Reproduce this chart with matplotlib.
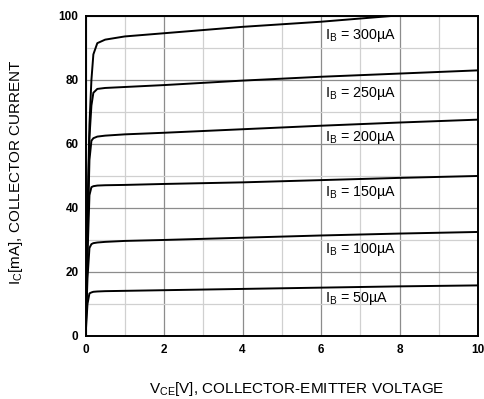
import matplotlib
matplotlib.use("Agg")
import matplotlib.pyplot as plt
from matplotlib.ticker import MultipleLocator

plt.rcParams['font.family'] = ['Liberation Sans', 'DejaVu Sans']
plt.rcParams['mathtext.fontset'] = 'custom'
plt.rcParams['mathtext.rm'] = 'Liberation Sans'
plt.rcParams['mathtext.default'] = 'regular'

# Collector-emitter voltage sample points (V)
vce = [0, 0.05, 0.1, 0.15, 0.2, 0.3, 0.5, 1, 2, 4, 6, 8, 10]

# Collector current (mA) for each base current
ib_labels = ["50", "100", "150", "200", "250", "300"]
ic_50 = [0, 10, 13.3, 13.6, 13.8, 13.9, 14.0, 14.1, 14.3, 14.7, 15.1, 15.5, 15.8]
ic_100 = [0, 18, 27.5, 28.7, 29.0, 29.2, 29.4, 29.7, 30.0, 30.7, 31.4, 32.0, 32.5]
ic_150 = [0, 25, 44, 46.5, 46.8, 47.0, 47.1, 47.2, 47.5, 48.0, 48.7, 49.4, 50.0]
ic_200 = [0, 30, 55, 61, 61.8, 62.3, 62.6, 63.0, 63.5, 64.6, 65.7, 66.7, 67.6]
ic_250 = [0, 35, 62, 72, 76, 77.2, 77.5, 77.8, 78.4, 79.8, 81.0, 82.0, 83.0]
ic_300 = [0, 38, 66, 80, 88, 91.5, 92.6, 93.6, 94.6, 96.6, 98.2, 100.2, 101.8]
curves = [ic_50, ic_100, ic_150, ic_200, ic_250, ic_300]

# Label anchor positions (V, mA)
label_x = [6.1, 6.1, 6.1, 6.1, 6.1, 6.1]
label_y = [11.6, 26.9, 44.8, 62.0, 75.9, 94.0]

x_ticks = [0, 2, 4, 6, 8, 10]
y_ticks = [0, 20, 40, 60, 80, 100]

fig = plt.figure(figsize=(4.84, 3.99), dpi=100)
ax = fig.add_axes([0.1767, 0.158, 0.811, 0.802])

ax.set_xlim(0, 10)
ax.set_ylim(0, 100)
ax.set_xticks(x_ticks)
ax.set_yticks(y_ticks)
ax.xaxis.set_minor_locator(MultipleLocator(1))
ax.yaxis.set_minor_locator(MultipleLocator(10))
ax.grid(which='major', color='#8c8c8c', linewidth=0.9)
ax.grid(which='minor', color='#d0d0d0', linewidth=0.9)
ax.set_axisbelow(True)

for ic in curves:
    ax.plot(vce, ic, color='black', linewidth=1.4, solid_joinstyle='round')

for lab, lx, ly in zip(ib_labels, label_x, label_y):
    ax.text(lx, ly, r"I$_{B}$ = " + lab + "\u00b5A", fontsize=10.3,
            va='center', ha='left', color='black')

for s in ax.spines.values():
    s.set_linewidth(1.4)
    s.set_color('black')

ax.tick_params(which='both', length=0)
ax.tick_params(axis='x', which='major', labelsize=8.5, pad=6)
ax.tick_params(axis='y', which='major', labelsize=8.5, pad=5)
for t in ax.get_xticklabels() + ax.get_yticklabels():
    t.set_fontweight('bold')

fig.text(0.033, 0.568, r"I$_{C}$[mA], COLLECTOR CURRENT", rotation=90,
         fontsize=11, va='center', ha='center')
fig.text(0.613, 0.015, r"V$_{CE}$[V], COLLECTOR-EMITTER VOLTAGE",
         fontsize=11, va='baseline', ha='center')

fig.savefig("out.png", dpi=100)
